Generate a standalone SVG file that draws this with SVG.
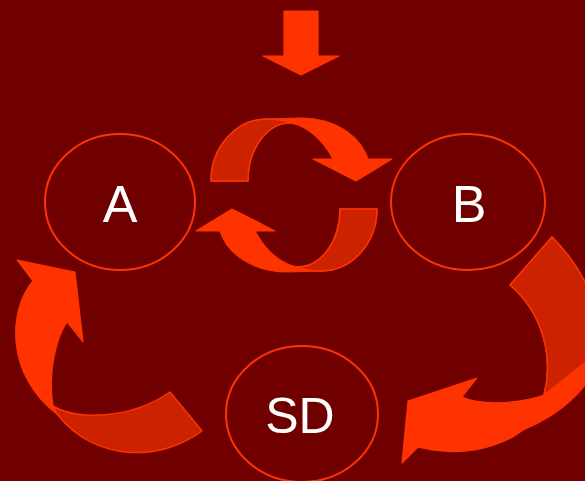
<svg xmlns="http://www.w3.org/2000/svg" width="585" height="481" viewBox="0 0 585 481">
<style>
.bg{fill:#700000}
.node{fill:none;stroke:#FF3300;stroke-width:2}
.lbl{fill:#FFFFFF;font-family:"Liberation Sans",Arial,sans-serif;text-anchor:middle}
.bright{fill:#FF3300;stroke:#FF3300;stroke-width:1.2;stroke-linejoin:round}
.dark{fill:#CC2200;stroke:#FF3300;stroke-width:1.5;stroke-linejoin:round}
</style>
<rect class="bg" x="0" y="0" width="585" height="481"/>
<g id="connectors">
  <path id="down-arrow" class="bright" d="M284,11 L318,11 L318,56 L339,56 L301,75 L263,56 L284,56 Z"/>
  <g id="cycle-top">
    <path class="bright" d="M211,181 A56 62 0 0 1 267,119 L300,118 C340,118 362,140 368,159 L392,159 L356,181 L313,159 L333,159 C322,138 305,125 290,123 A42 58 0 0 0 248,181 Z"/>
    <path class="dark" d="M211,181 A56 62 0 0 1 267,119 Q281,119 290,123 A42 58 0 0 0 248,181 Z"/>
  </g>
  <g id="cycle-bottom" transform="rotate(180 294 195)">
    <path class="bright" d="M211,181 A56 62 0 0 1 267,119 L300,118 C340,118 362,140 368,159 L392,159 L356,181 L313,159 L333,159 C322,138 305,125 290,123 A42 58 0 0 0 248,181 Z"/>
    <path class="dark" d="M211,181 A56 62 0 0 1 267,119 Q281,119 290,123 A42 58 0 0 0 248,181 Z"/>
  </g>
  <g id="sd-to-a">
    <path class="bright" d="M17,260 L75,272 L83,342 L67,322 C55,340 48,375 53,406 L58,415 C5,375 8,310 33,281 Z"/>
    <path class="dark" d="M53,406 C75,420 130,420 170,392 L202,431 C160,462 95,462 58,415 Z"/>
  </g>
  <g id="b-to-sd">
    <path class="bright" d="M552,237 C580,265 602,305 600,345 C598,385 560,415 523,430 C500,448 460,458 418,447 L402,463 L408,401 L477,378 L462,397 C480,405 515,405 544,395 C553,360 545,315 510,285 Z"/>
    <path class="dark" d="M510,285 L552,237 C580,265 602,305 600,345 L600,351 L544,395 C553,360 545,315 510,285 Z"/>
  </g>
</g>
<g id="node-A">
  <ellipse class="node" cx="120" cy="202" rx="75" ry="68"/>
  <text class="lbl" x="120" y="222" font-size="52">A</text>
</g>
<g id="node-B">
  <ellipse class="node" cx="468" cy="202" rx="77" ry="68"/>
  <text class="lbl" x="469" y="222" font-size="52">B</text>
</g>
<g id="node-SD">
  <ellipse class="node" cx="302" cy="414" rx="76" ry="68"/>
  <text class="lbl" x="300" y="433" font-size="50">SD</text>
</g>
</svg>
